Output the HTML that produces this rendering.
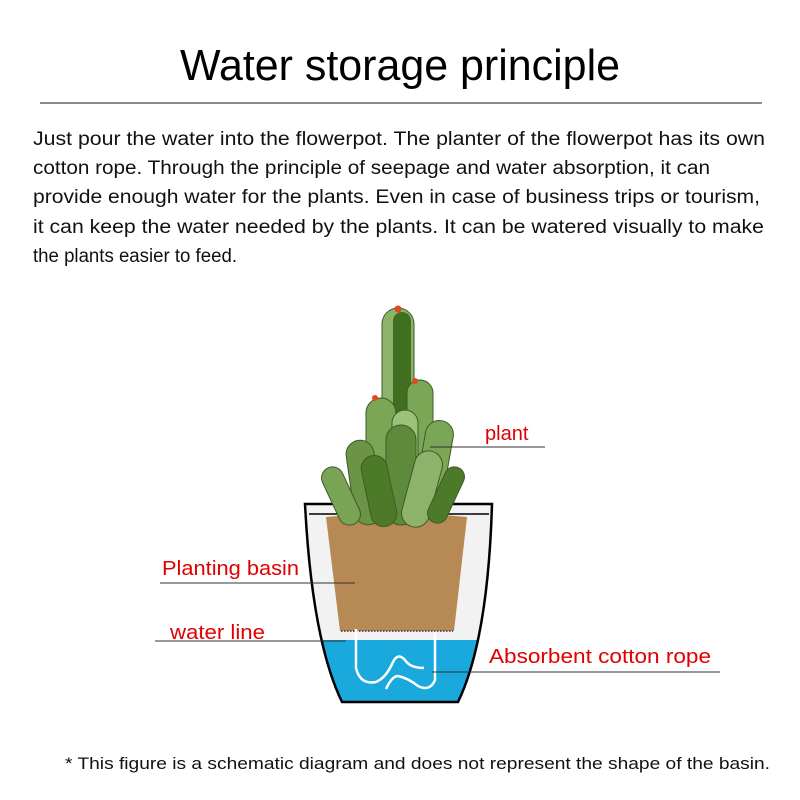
<!DOCTYPE html>
<html><head><meta charset="utf-8"><style>
html,body{margin:0;padding:0;background:#fff;}
svg{display:block;}
text{font-family:"Liberation Sans",sans-serif;}
</style></head><body>
<svg width="800" height="800" viewBox="0 0 800 800" xmlns="http://www.w3.org/2000/svg">
<defs>
<clipPath id="pot"><path d="M305,504 L492,504 Q488,640 458,702 L342,702 Q312,640 305,504 Z"/></clipPath>
</defs>
<rect width="800" height="800" fill="#fff"/>
<text x="180" y="80" font-size="44" textLength="440" lengthAdjust="spacingAndGlyphs" fill="#000">Water storage principle</text>
<line x1="40" y1="103" x2="762" y2="103" stroke="#666" stroke-width="1.5"/>
<g font-size="19" fill="#111">
<text x="33" y="145" textLength="732" lengthAdjust="spacingAndGlyphs">Just pour the water into the flowerpot. The planter of the flowerpot has its own</text>
<text x="33" y="174" textLength="677" lengthAdjust="spacingAndGlyphs">cotton rope. Through the principle of seepage and water absorption, it can</text>
<text x="33" y="203" textLength="727" lengthAdjust="spacingAndGlyphs">provide enough water for the plants. Even in case of business trips or tourism,</text>
<text x="33" y="233" textLength="731" lengthAdjust="spacingAndGlyphs">it can keep the water needed by the plants. It can be watered visually to make</text>
<text x="33" y="262" textLength="204" lengthAdjust="spacingAndGlyphs">the plants easier to feed.</text>
</g>
<!-- pot -->
<path d="M305,504 L492,504 Q488,640 458,702 L342,702 Q312,640 305,504 Z" fill="#f2f2f2"/>
<g clip-path="url(#pot)">
<rect x="300" y="640" width="200" height="70" fill="#19a9dd"/>
</g>
<path d="M305,504 L492,504 Q488,640 458,702 L342,702 Q312,640 305,504 Z" fill="none" stroke="#000" stroke-width="2.5"/>
<line x1="309" y1="514" x2="489" y2="514" stroke="#000" stroke-width="1.5"/>
<path d="M326,517 Q396,510 467,517 L454,631 L340,631 Z" fill="#b78a55"/>
<line x1="341" y1="631" x2="453" y2="631" stroke="#555" stroke-width="2" stroke-dasharray="1.5,1.5"/>
<g fill="none" stroke="#fff" stroke-width="2.5">
<path d="M356,629 L356,668 Q360,685 376,682 Q386,678 393,662 Q398,652 405,660 Q410,668 424,668"/>
<path d="M435,633 L435,680 Q430,692 418,686 Q408,678 398,676 Q392,676 386,689"/>
</g>
<!-- cactus -->
<g stroke="#3d5a2a" stroke-width="1">
<rect x="382" y="308" width="32" height="170" rx="16" fill="#8db36a"/>
<rect x="393" y="312" width="18" height="160" rx="9" fill="#3f6f1f" stroke="none"/>
<rect x="407" y="380" width="26" height="110" rx="13" fill="#7aa656"/>
<rect x="366" y="398" width="30" height="100" rx="15" fill="#7aa656"/>
<rect x="392" y="410" width="26" height="90" rx="13" fill="#9cc277"/>
<rect x="350" y="440" width="28" height="85" rx="14" fill="#6b9446" transform="rotate(-8 364 482)"/>
<rect x="420" y="420" width="28" height="90" rx="14" fill="#7aa656" transform="rotate(10 434 465)"/>
<rect x="386" y="425" width="30" height="100" rx="15" fill="#5e8a3b"/>
<rect x="330" y="465" width="22" height="62" rx="11" fill="#79a455" transform="rotate(-25 341 496)"/>
<rect x="366" y="455" width="26" height="72" rx="13" fill="#4d7a28" transform="rotate(-12 379 491)"/>
<rect x="408" y="450" width="28" height="78" rx="14" fill="#8db36a" transform="rotate(15 422 489)"/>
<rect x="436" y="465" width="20" height="60" rx="10" fill="#4d7a28" transform="rotate(25 446 495)"/>
</g>
<circle cx="398" cy="309" r="3.5" fill="#e04a20"/>
<circle cx="415" cy="381" r="3" fill="#e04a20"/>
<circle cx="375" cy="398" r="3" fill="#e04a20"/>
<!-- labels -->
<g stroke="#333" stroke-width="1">
<line x1="430" y1="447" x2="545" y2="447"/>
<line x1="160" y1="583" x2="355" y2="583"/>
<line x1="155" y1="641" x2="346" y2="641"/>
<line x1="432" y1="672" x2="720" y2="672"/>
</g>
<g font-size="20" fill="#e00000">
<text x="485" y="440">plant</text>
<text x="162" y="575" textLength="137" lengthAdjust="spacingAndGlyphs">Planting basin</text>
<text x="170" y="639" textLength="95" lengthAdjust="spacingAndGlyphs">water line</text>
<text x="489" y="663" textLength="222" lengthAdjust="spacingAndGlyphs">Absorbent cotton rope</text>
</g>
<text x="65" y="769" font-size="17" fill="#111" textLength="705" lengthAdjust="spacingAndGlyphs">* This figure is a schematic diagram and does not represent the shape of the basin.</text>
</svg>
</body></html>
